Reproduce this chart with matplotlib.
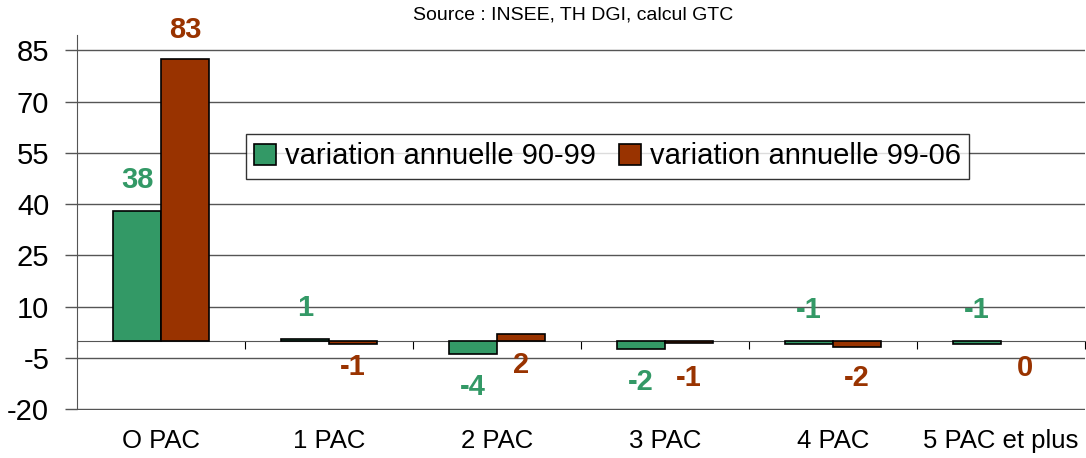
import matplotlib
matplotlib.use('Agg')
import matplotlib.pyplot as plt
import numpy as np

plt.rcParams['font.family'] = ['Liberation Sans', 'DejaVu Sans']
plt.rcParams['axes.unicode_minus'] = False

# data
categories = ['O PAC', '1 PAC', '2 PAC', '3 PAC', '4 PAC', '5 PAC et plus']
series_names = ['variation annuelle 90-99', 'variation annuelle 99-06']
var_90_99 = [38.0, 0.6, -3.8, -2.4, -0.9, -0.9]
var_99_06 = [82.6, -0.9, 1.9, -0.8, -2.0, 0.0]
labels_90_99 = ['38', '1', '-4', '-2', '-1', '-1']
labels_99_06 = ['83', '-1', '2', '-1', '-2', '0']
# where Excel put the value labels (data units)
label_y_90_99 = [47, 9.6, -13.5, -12, 9, 9]
label_y_99_06 = [91, -7.6, -7, -10.8, -10.8, -7.9]

green = '#339966'
brown = '#993300'
grid_col = '#555555'

fig = plt.figure(figsize=(10.86, 4.58), dpi=100)
ax = fig.add_axes([0.0709, 0.1048, 0.9281, 0.8188])

x = np.arange(len(categories))
w = 0.285
lw1 = [1.2 if v != 0 else 0 for v in var_90_99]
lw2 = [1.2 if v != 0 else 0 for v in var_99_06]
ax.bar(x - w / 2, var_90_99, w, color=green, edgecolor='black', linewidth=lw1,
       label=series_names[0], zorder=3)
ax.bar(x + w / 2, var_99_06, w, color=brown, edgecolor='black', linewidth=lw2,
       label=series_names[1], zorder=3)

for i in range(len(categories)):
    ax.text(x[i] - w / 2, label_y_90_99[i], labels_90_99[i], color=green,
            fontsize=21, fontweight='bold', ha='center', va='center', clip_on=False)
    ax.text(x[i] + w / 2, label_y_99_06[i], labels_99_06[i], color=brown,
            fontsize=21, fontweight='bold', ha='center', va='center', clip_on=False)

ax.set_xlim(-0.5, len(categories) - 0.5)
ax.set_ylim(-20.3, 89.5)
ax.set_yticks([-20, -5, 10, 25, 40, 55, 70, 85])
ax.tick_params(axis='y', labelsize=21, length=9, color=grid_col, width=1, pad=11)
ax.yaxis.grid(True, color=grid_col, linewidth=1)
ax.set_axisbelow(True)

for s in ['top', 'right']:
    ax.spines[s].set_visible(False)
ax.spines['left'].set_color(grid_col)
ax.spines['left'].set_bounds(-20, 89.5)
ax.spines['bottom'].set_position(('data', 0))
ax.spines['bottom'].set_color(grid_col)
ax.spines['bottom'].set_zorder(2)
ax.set_xticks(np.arange(-0.5, len(categories), 1.0))
ax.tick_params(axis='x', labelbottom=False, length=6, direction='out', color='black')

sec = ax.secondary_xaxis(0.0)
sec.set_xticks(x)
sec.set_xticklabels(categories)
sec.tick_params(length=0, labelsize=18.5, pad=14)
sec.spines['bottom'].set_visible(False)

leg = ax.legend(loc='center', bbox_to_anchor=(0.5594, 0.6583), bbox_transform=fig.transFigure,
                ncol=2, fontsize=21, frameon=True, fancybox=False, handlelength=0.75,
                handleheight=0.75, handletextpad=0.3, columnspacing=0.8, borderpad=0.3)
leg.get_frame().set_edgecolor('black')
leg.get_frame().set_linewidth(1)

fig.text(0.5276, 0.967, 'Source : INSEE, TH DGI, calcul GTC', ha='center', va='center', fontsize=14)

plt.savefig('out.png', dpi=100)
